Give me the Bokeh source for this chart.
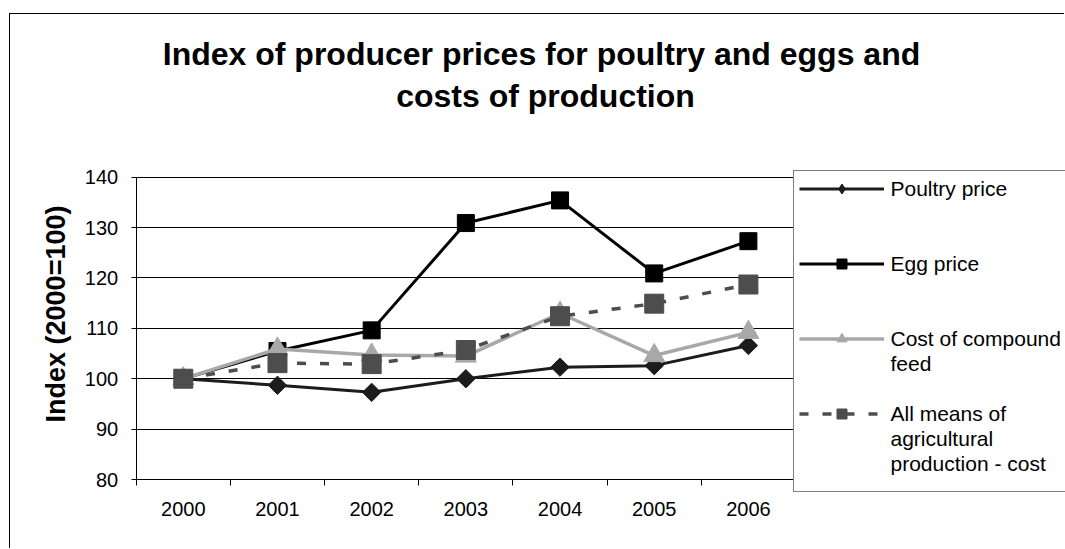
import math
from bokeh.plotting import figure
from bokeh.models import (Range1d, FixedTicker, Label, Legend, LegendItem,
                          ColumnDataSource, Grid)
from bokeh.embed import file_html
from bokeh.resources import INLINE

# ---- data ----
years = [2000, 2001, 2002, 2003, 2004, 2005, 2006]
poultry_price = [100.0, 98.7, 97.3, 100.0, 102.3, 102.6, 106.6]
egg_price = [100.0, 105.5, 109.6, 130.9, 135.4, 120.9, 127.3]
compound_feed_cost = [100.0, 105.9, 104.7, 104.5, 113.0, 104.6, 109.2]
all_means_cost = [100.0, 103.1, 102.9, 105.7, 112.4, 114.9, 118.7]
y_ticks = [80, 90, 100, 110, 120, 130, 140]

title_lines = ["Index of producer prices for poultry and eggs and",
               "costs of production"]
y_title = "Index (2000=100)"
legend_lines = [["Poultry price"], ["Egg price"], ["Cost of compound", "feed"],
                ["All means of", "agricultural", "production - cost"]]

FONT = "Liberation Sans"

# ---- layout (pixels) ----
W, H = 1055, 535            # canvas; placed at window (10, 14) by margin + border
CX0, CY0 = 10, 14           # canvas origin in window coords
PLOT_L, PLOT_R = 135.7, 795.0   # window x of category area
PLOT_T, PLOT_B = 176.7, 479.0   # window y of 140 and 80

x_lo, x_hi = years[0] - 0.5, years[-1] + 0.5
y_lo, y_hi = y_ticks[0], y_ticks[-1]
xs = (PLOT_R - PLOT_L) / (x_hi - x_lo)
ys = (PLOT_B - PLOT_T) / (y_hi - y_lo)
x_start = x_lo - (PLOT_L - CX0) / xs
x_end = x_start + W / xs
y_end = y_hi + (PLOT_T - CY0) / ys
y_start = y_end - H / ys


def sx(wx):
    return wx - CX0


def sy(wy):
    return (CY0 + H) - wy


src = ColumnDataSource(dict(year=years, poultry=poultry_price, egg=egg_price,
                            feed=compound_feed_cost, allm=all_means_cost))

p = figure(width=W, height=H, output_backend="svg", toolbar_location=None,
           x_range=Range1d(x_start, x_end), y_range=Range1d(y_start, y_end),
           min_border=0, min_border_left=0, min_border_right=0,
           min_border_top=0, min_border_bottom=0)
p.outline_line_color = None
p.background_fill_color = "white"
p.border_fill_color = "white"
p.margin = (13, 0, 0, 9)
p.styles = {"border-top": "1px solid #000000", "border-left": "1px solid #000000"}

# axes, fixed inside the frame
xa = p.xaxis[0]
xa.fixed_location = y_lo
xa.bounds = (x_lo, x_hi)
xa.ticker = FixedTicker(ticks=years,
                        minor_ticks=[y - 0.5 for y in years] + [years[-1] + 0.5])
xa.major_tick_in = 0
xa.major_tick_out = 0
xa.minor_tick_in = 0
xa.minor_tick_out = 6
xa.minor_tick_line_color = "black"
xa.axis_line_color = "black"
xa.major_label_standoff = 16
xa.major_label_text_font = FONT
xa.major_label_text_font_size = "20px"
xa.major_label_text_color = "black"

ya = p.yaxis[0]
ya.fixed_location = x_lo
ya.bounds = (y_lo, y_hi)
ya.ticker = FixedTicker(ticks=y_ticks)
ya.major_tick_in = 0
ya.major_tick_out = 5
ya.minor_tick_out = 0
ya.minor_tick_in = 0
ya.major_tick_line_color = "black"
ya.axis_line_color = "black"
ya.major_label_standoff = 13
ya.major_label_text_font = FONT
ya.major_label_text_font_size = "20px"
ya.major_label_text_color = "black"

p.xgrid.grid_line_color = None
p.ygrid.ticker = FixedTicker(ticks=y_ticks)
p.ygrid.grid_line_color = "black"
p.ygrid.grid_line_width = 1
if "cross_bounds" in Grid.properties():
    p.ygrid.bounds = (y_lo, y_hi)
    p.ygrid.cross_bounds = (x_lo, x_hi)
else:
    p.ygrid.grid_line_color = None
    ya.level = "underlay"
    ya.major_tick_in = int(round(PLOT_R - PLOT_L))

# series
r1l = p.line("year", "poultry", source=src, line_color="#1c1c1c", line_width=3, line_join="round")
# small diamonds used as the legend key; fully covered by the larger markers below
r1k = p.scatter("year", "poultry", source=src, marker="diamond", size=13,
                fill_color="#1c1c1c", line_color="#1c1c1c")
r1m = p.scatter("year", "poultry", source=src, marker="square", size=13, angle=math.pi / 4,
                fill_color="#1c1c1c", line_color="#1c1c1c")
r2l = p.line("year", "egg", source=src, line_color="black", line_width=3, line_join="round")
r2m = p.scatter("year", "egg", source=src, marker="square", size=17,
                fill_color="black", line_color="black")
r3l = p.line("year", "feed", source=src, line_color="#a8a8a8", line_width=3.5, line_join="round")
r3m = p.scatter("year", "feed", source=src, marker="triangle", size=21,
                fill_color="#a8a8a8", line_color="#a8a8a8")
r4l = p.line("year", "allm", source=src, line_color="#4d4d4d", line_width=3.5,
             line_dash="9 14")
r4m = p.scatter("year", "allm", source=src, marker="square", size=19,
                fill_color="#4d4d4d", line_color="#4d4d4d")

# legend: one row per text line, blank rows give the gaps between entries
rend = [[r1l, r1k], [r2l, r2m], [r3l, r3m], [r4l, r4m]]
rows_per_entry = 3
items = []
for i, lines in enumerate(legend_lines):
    for j, t in enumerate(lines):
        items.append(LegendItem(label=t, renderers=rend[i] if j == 0 else []))
    if i < len(legend_lines) - 1:
        for _ in range(rows_per_entry - len(lines)):
            items.append(LegendItem(label=" ", renderers=[]))

ROW = 25
PAD = 5
legend = Legend(items=items, location=(sx(792.5), sy(492)))
legend.glyph_width = 85
legend.glyph_height = ROW
legend.label_height = ROW
legend.label_width = 220
legend.label_standoff = 7
legend.padding = PAD
legend.margin = 0
legend.spacing = 0
legend.title = " "
legend.title_location = "below"
legend.title_text_font_size = "6px"
legend.title_standoff = 4
legend.border_line_color = "black"
legend.border_line_width = 1
legend.background_fill_color = "white"
legend.background_fill_alpha = 1
legend.label_text_font = FONT
legend.label_text_font_size = "21px"
legend.label_text_color = "black"
p.add_layout(legend, "center")

# titles
p.add_layout(Label(x=sx(541), y=sy(53), x_units="screen", y_units="screen",
                   text=title_lines[0], text_font=FONT, text_font_size="32px",
                   text_font_style="bold", text_align="center",
                   text_baseline="middle", text_color="black"))
p.add_layout(Label(x=sx(545), y=sy(95), x_units="screen", y_units="screen",
                   text=title_lines[1], text_font=FONT, text_font_size="32px",
                   text_font_style="bold", text_align="center",
                   text_baseline="middle", text_color="black"))
p.add_layout(Label(x=sx(55), y=sy(313.5), x_units="screen", y_units="screen",
                   text=y_title, angle=math.pi / 2, text_font=FONT,
                   text_font_size="27px", text_font_style="bold",
                   text_align="center", text_baseline="middle", text_color="black"))

open("out.html", "w").write(file_html(p, INLINE))
